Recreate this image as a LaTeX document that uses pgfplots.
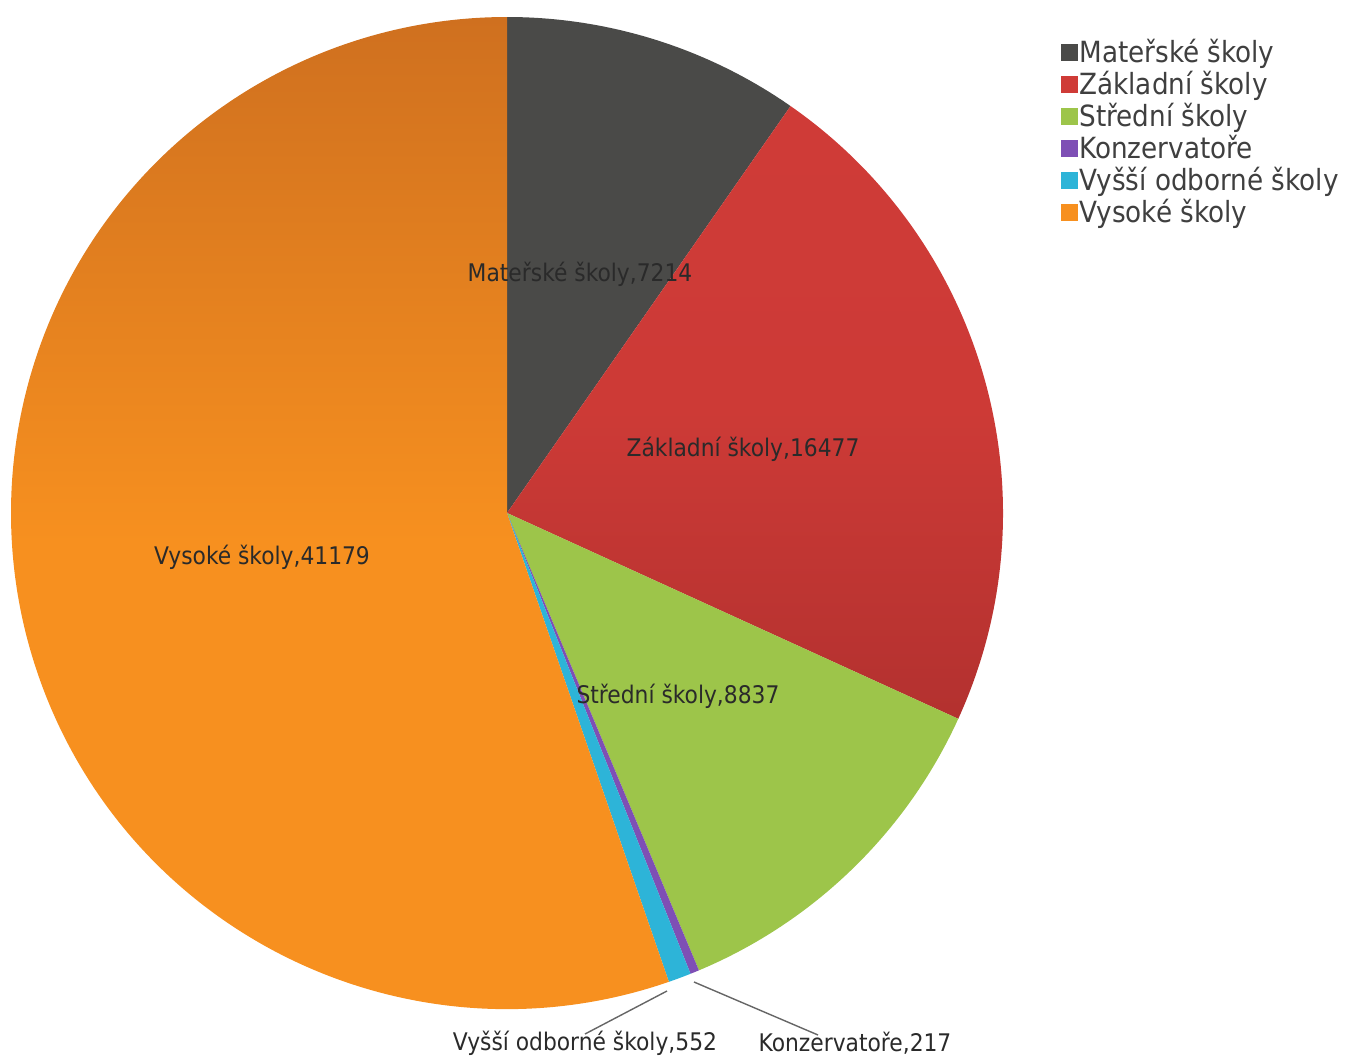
\documentclass[border=0pt]{standalone}
\usepackage{pgfplots}
\pgfplotsset{compat=1.18}
\usepackage{fontspec}
\setmainfont{DejaVu Sans Condensed}

\definecolor{cMat}{HTML}{4A4A48}
\definecolor{cZak}{HTML}{CF3B37}
\definecolor{cZakDark}{HTML}{B3312F}
\definecolor{cStr}{HTML}{9DC54A}
\definecolor{cKon}{HTML}{7E4FB5}
\definecolor{cVos}{HTML}{2DB4D8}
\definecolor{cVys}{HTML}{F7901F}
\definecolor{cVysTop}{HTML}{CF701F}
\definecolor{txt}{HTML}{2A2A2A}

% total of all six values
\def\pietotal{74476}
\def\angA{90}
% one slice, clockwise from the current angle
\newcommand\slice[2]{%
  \edef\angB{\fpeval{round(\angA-#1/\pietotal*360,4)}}%
  \edef\doslice{\noexpand\path[#2] (axis cs:507,545) -- ++(\angA:4.96cm)
    arc[start angle=\angA, end angle=\angB, radius=4.96cm] -- cycle;}%
  \doslice
  \global\let\angA\angB}

\begin{document}
\begin{tikzpicture}
\begin{axis}[
  scale only axis, width=13.47cm, height=10.58cm,
  xmin=0, xmax=1347, ymin=0, ymax=1058,
  hide axis, clip=false,
  legend cell align=left,
  legend style={draw=none, fill=none, at={(axis cs:1060,1020)}, anchor=north west,
    inner sep=0pt, row sep=0.004cm, font=\fontsize{8.3}{10}\selectfont, text=txt!90,
    nodes={inner sep=0.5pt, text height=0.22cm, text depth=0.06cm}},
  legend image code/.code={\fill[#1, draw=none] (0cm,-0.07cm) rectangle (0.17cm,0.10cm);},
]
\coordinate (bl) at (rel axis cs:0,0);
\coordinate (tr) at (rel axis cs:1,1);

\slice{7214}{fill=cMat}
\slice{16477}{top color=cZak, bottom color=cZakDark, middle color=cZak!92!cZakDark}
\slice{8837}{fill=cStr}
\slice{217}{fill=cKon}
\slice{552}{fill=cVos}
\slice{41179}{top color=cVysTop, bottom color=cVys, middle color=cVys}

\addlegendimage{fill=cMat}\addlegendentry{Mateřské školy}
\addlegendimage{fill=cZak}\addlegendentry{Základní školy}
\addlegendimage{fill=cStr}\addlegendentry{Střední školy}
\addlegendimage{fill=cKon}\addlegendentry{Konzervatoře}
\addlegendimage{fill=cVos}\addlegendentry{Vyšší odborné školy}
\addlegendimage{fill=cVys}\addlegendentry{Vysoké školy}

\begin{scope}[every node/.style={font=\fontsize{6.9}{8}\selectfont, text=txt, inner sep=0pt}]
\node at (axis cs:580,784) {Mateřské školy,7214};
\node at (axis cs:743,609) {Základní školy,16477};
\node at (axis cs:678,362) {Střední školy,8837};
\node at (axis cs:262,501) {Vysoké školy,41179};
\node at (axis cs:585,15) {Vyšší odborné školy,552};
\node at (axis cs:855,15) {Konzervatoře,217};
\end{scope}
\draw[gray!80!black, line width=0.4pt] (axis cs:667,67) -- (axis cs:585,24);
\draw[gray!80!black, line width=0.4pt] (axis cs:694,76) -- (axis cs:818,23);
\end{axis}
\pgfresetboundingbox
\path[use as bounding box] (bl) rectangle (tr);
\end{tikzpicture}
\end{document}
